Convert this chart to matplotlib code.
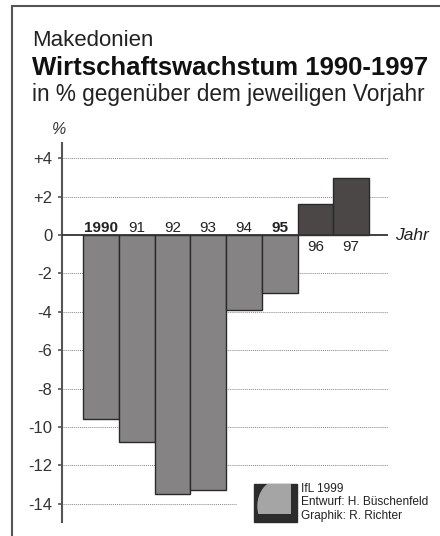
import matplotlib.pyplot as plt
from matplotlib.patches import Rectangle, Circle
from matplotlib.lines import Line2D

# Wirtschaftswachstum Makedonien, % gegenueber Vorjahr
years = ['1990', '91', '92', '93', '94', '95', '96', '97']
growth = [-9.6, -10.8, -13.5, -13.3, -3.9, -3.0, 1.6, 3.0]
bold_years = ['1990', '95']
yticks = [4, 2, 0, -2, -4, -6, -8, -10, -12, -14]
ytick_labels = ['+4', '+2', '0', '-2', '-4', '-6', '-8', '-10', '-12', '-14']

plt.rcParams['font.family'] = ['Liberation Sans', 'DejaVu Sans']

W, H = 440, 536
fig = plt.figure(figsize=(W / 100, H / 100), dpi=100)

def fx(px):
    return px / W

def fy(py):
    return 1 - py / H

# frame (top and left edge visible)
fig.add_artist(Line2D([fx(12), 1], [fy(6), fy(6)], color='#555555', lw=1.5))
fig.add_artist(Line2D([fx(12), fx(12)], [fy(6), 0], color='#555555', lw=1.5))

fig.text(fx(32), fy(40), 'Makedonien', fontsize=16, va='center', color='#222222')
fig.text(fx(32), fy(68), 'Wirtschaftswachstum 1990-1997', fontsize=18.5,
         fontweight='bold', va='center', color='#111111')
fig.text(fx(32), fy(94), 'in % gegenüber dem jeweiligen Vorjahr', fontsize=16.3,
         va='center', color='#222222')
fig.text(fx(52), fy(129), '%', fontsize=11.5, style='italic', va='center', color='#333333')

ax = fig.add_axes([fx(62), fy(522), fx(388) - fx(62), fy(143) - fy(522)])
ax.set_xlim(-1.09, 8.03)
ax.set_ylim(-14.95, 4.8)

colors = ['#858384' if v < 0 else '#4b4747' for v in growth]
x = list(range(len(years)))
ax.bar(x, growth, width=1.0, color=colors, edgecolor='#2a2a2a', linewidth=1.0, zorder=3)

for t in yticks:
    if t == 0:
        continue
    xmax = 0.537 if t == -14 else 1.0
    ax.axhline(t, xmin=0, xmax=xmax, color='#888888', lw=0.7, ls=(0, (1, 1)), zorder=1)
ax.axhline(0, color='#333333', lw=1.3, zorder=4)

for i, (lab, v) in enumerate(zip(years, growth)):
    weight = 'bold' if lab in bold_years else 'normal'
    if v < 0:
        ax.text(i, 0.18, lab, ha='center', va='baseline', fontsize=11, fontweight=weight,
                color='#222222')
    else:
        ax.text(i, -0.25, lab, ha='center', va='top', fontsize=11, fontweight=weight,
                color='#222222')
ax.text(8.23, 0, 'Jahr', ha='left', va='center', fontsize=12.5, style='italic',
        color='#222222', clip_on=False)

ax.set_yticks(yticks)
ax.set_yticklabels(ytick_labels, fontsize=12, color='#333333')
ax.set_xticks([])
for s in ['top', 'right', 'bottom']:
    ax.spines[s].set_visible(False)
ax.spines['left'].set_color('#555555')
ax.spines['left'].set_linewidth(1.5)
ax.tick_params(axis='y', length=3, width=1.2, color='#555555', pad=4)
ax.patch.set_alpha(0)

# IfL logo (simplified)
lx0, ly0, lx1, ly1 = 254, 484, 297, 522
fig.add_artist(Rectangle((fx(lx0), fy(ly1)), fx(lx1) - fx(lx0), fy(ly0) - fy(ly1),
                         color='#2b2b2b', transform=fig.transFigure))
globe = Circle((fx(279), fy(506)), radius=fx(21), color='#a5a5a5',
               transform=fig.transFigure)
globe.set_clip_path(Rectangle((fx(lx0 + 3), fy(ly1 - 8)), fx(lx1 - 6) - fx(lx0 + 3),
                              fy(ly0) - fy(ly1 - 8), transform=fig.transFigure))
fig.add_artist(globe)

for yy, txt in [(489, 'IfL 1999'), (502, 'Entwurf: H. Büschenfeld'), (516, 'Graphik: R. Richter')]:
    fig.text(fx(301), fy(yy), txt, fontsize=8.6, va='center', color='#222222')

fig.savefig('out.png', dpi=100)
